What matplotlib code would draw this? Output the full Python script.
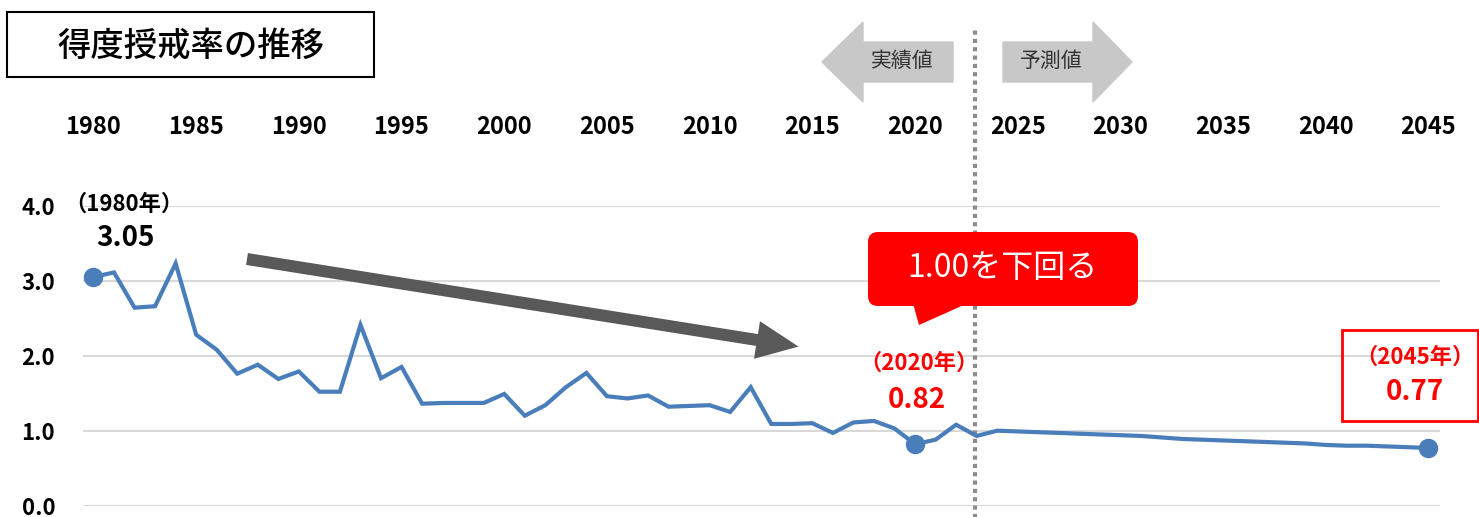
import matplotlib.pyplot as plt
from matplotlib.patches import Polygon, Rectangle, FancyBboxPatch, FancyArrow
from matplotlib.transforms import Affine2D

plt.rcParams['font.family'] = ['Noto Sans CJK JP', 'DejaVu Sans']

# data
years = list(range(1980, 2046))
rate = [3.05, 3.11, 2.64, 2.66, 3.23, 2.28, 2.08, 1.76, 1.88, 1.69,
        1.79, 1.52, 1.52, 2.41, 1.70, 1.85, 1.36, 1.37, 1.37, 1.37,
        1.49, 1.20, 1.34, 1.58, 1.77, 1.46, 1.43, 1.47, 1.32, 1.33,
        1.34, 1.25, 1.58, 1.09, 1.09, 1.10, 0.97, 1.11, 1.13, 1.03,
        0.82, 0.88, 1.08, 0.93, 1.00, 0.99, 0.98, 0.97, 0.96, 0.95,
        0.94, 0.93, 0.91, 0.89, 0.88, 0.87, 0.86, 0.85, 0.84, 0.83,
        0.81, 0.80, 0.80, 0.79, 0.78, 0.77]
tick_years = list(range(1980, 2046, 5))
y_ticks = [0, 1, 2, 3, 4]
highlight_years = [1980, 2020, 2045]
boundary = 2022.9

W, H = 1479, 517
fig = plt.figure(figsize=(W / 100, H / 100), dpi=100)
ax = fig.add_axes([83 / W, 1 - 505.7 / H, (1440 - 83) / W, 300 / H])
# pixel coords with origin at top-left
px = Affine2D().scale(1 / W, -1 / H).translate(0, 1) + fig.transFigure

blue = '#4a7ebb'
red = '#ff0000'

ax.plot(years, rate, color=blue, lw=3, solid_joinstyle='miter', zorder=3)
hv = [rate[years.index(y)] for y in highlight_years]
ax.plot(highlight_years, hv, 'o', color=blue, ms=13, zorder=4)

ax.set_xlim(1979.49, 2045.56)
ax.set_ylim(0, 4)
ax.set_yticks(y_ticks)
ax.set_yticklabels([f'{v:.1f}' for v in y_ticks], fontsize=16, fontweight='bold')
ax.set_xticks(tick_years)
ax.set_xticklabels([str(y) for y in tick_years], fontsize=17, fontweight='bold')
ax.xaxis.tick_top()
ax.tick_params(axis='x', length=0, pad=48)
ax.tick_params(axis='y', length=0, pad=20)
ax.yaxis.grid(True, color='#d9d9d9', lw=1.5)
ax.set_axisbelow(True)
for s in ax.spines.values():
    s.set_visible(False)

# actual / forecast boundary
ax.axvline(boundary, ymin=-0.05, ymax=(505.7 - 30) / 300, color='#8c8c8c',
           lw=3, ls=(0, (1, 1)), clip_on=False, zorder=2)

# point labels
ax.annotate('（1980年）', (1980, hv[0]), xytext=(22, 52), textcoords='offset points',
            ha='center', va='center', fontsize=16, fontweight='bold')
ax.annotate(f'{hv[0]:.2f}', (1980, hv[0]), xytext=(23, 28), textcoords='offset points',
            ha='center', va='center', fontsize=20, fontweight='bold')
ax.annotate('（2020年）', (2020, hv[1]), xytext=(3, 58), textcoords='offset points',
            ha='center', va='center', fontsize=16, fontweight='bold', color=red)
ax.annotate(f'{hv[1]:.2f}', (2020, hv[1]), xytext=(1.5, 32), textcoords='offset points',
            ha='center', va='center', fontsize=20, fontweight='bold', color=red)
ax.annotate('（2045年）', (2045, hv[2]), xytext=(-10, 65), textcoords='offset points',
            ha='center', va='center', fontsize=16, fontweight='bold', color=red)
ax.annotate(f'{hv[2]:.2f}', (2045, hv[2]), xytext=(-10, 40), textcoords='offset points',
            ha='center', va='center', fontsize=20, fontweight='bold', color=red)
fig.patches.append(Rectangle((1342, 330), 136, 91, transform=px, fill=False,
                             edgecolor=red, lw=2))

# title box
fig.patches.append(Rectangle((7, 12), 367, 65, transform=px, fill=False,
                             edgecolor='black', lw=1.5))
fig.text(191, 46, '得度授戒率の推移', transform=px, ha='center', va='center',
         fontsize=24, fontweight='medium')

# grey direction arrows at the top
grey = '#c8c8c8'
left_arrow = [(822, 62), (863, 22), (863, 42), (953, 42), (953, 82), (863, 82), (863, 102)]
right_arrow = [(1003, 42), (1093, 42), (1093, 22), (1132, 62), (1093, 102), (1093, 82), (1003, 82)]
fig.patches.append(Polygon(left_arrow, closed=True, transform=px, color=grey))
fig.patches.append(Polygon(right_arrow, closed=True, transform=px, color=grey))
fig.text(902, 61, '実績値', transform=px, ha='center', va='center', fontsize=15,
         color='#333333')
fig.text(1051, 61, '予測値', transform=px, ha='center', va='center', fontsize=15,
         color='#333333')

# trend arrow
fig.patches.append(FancyArrow(247, 259, 510, 81, width=12, head_width=38,
                              head_length=42, length_includes_head=False,
                              transform=px, color='#595959', lw=0))

# red callout
fig.patches.append(FancyBboxPatch((868, 232), 270, 74, boxstyle='round,pad=0,rounding_size=10',
                                  transform=px, color=red, lw=0))
fig.patches.append(Polygon([(912, 300), (919, 325), (975, 300)], closed=True,
                           transform=px, color=red, lw=0))
fig.text(1002, 268, '1.00を下回る', transform=px, ha='center', va='center',
         fontsize=23, color='white')

fig.savefig('out.png', dpi=100)
